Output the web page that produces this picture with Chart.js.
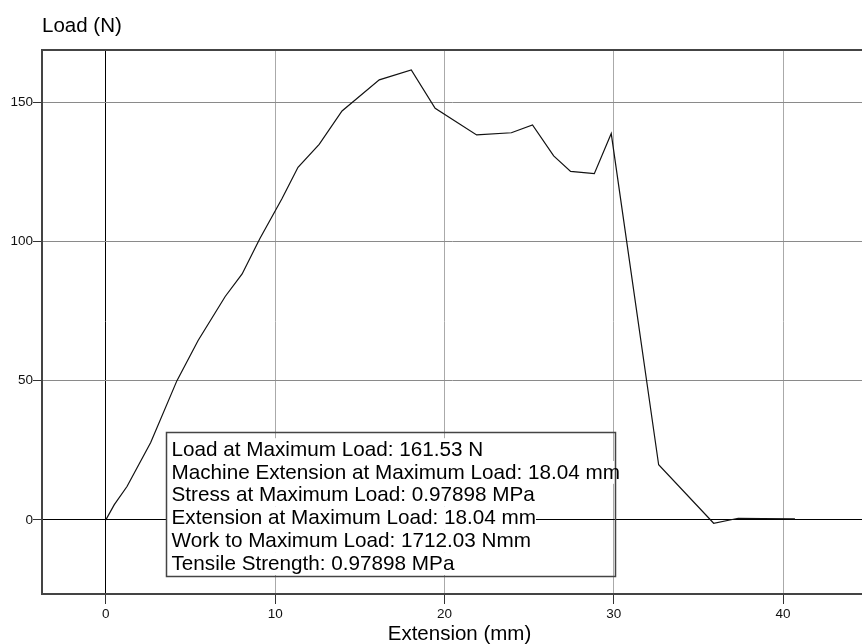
<!DOCTYPE html>
<html>
<head>
<meta charset="utf-8">
<script src="https://cdn.jsdelivr.net/npm/chart.js@4.4.1/dist/chart.umd.min.js"></script>
<style>
  html, body { margin: 0; padding: 0; background: #fff; }
  #chart { display: block; }
</style>
</head>
<body>
<canvas id="chart" width="862" height="644"></canvas>
<script>
// extension (mm) vs load (N)
const extension = [0, 0.5, 1.25, 2.65, 4.2, 5.45, 7.05, 8.05, 9.1, 10.4, 11.35, 12.6, 13.95, 16.15, 18.04,
    19.45, 21.9, 23.95, 25.2, 26.45, 27.45, 28.85, 29.85, 32.65, 35.9, 37.35, 38.8, 40.7];
const load = [0, 5.5, 12, 27.8, 50, 64.4, 80.2, 88.3, 101, 115.3, 126.6, 134.8, 146.8, 158, 161.53,
    147.8, 138.2, 139, 141.8, 130.7, 125.1, 124.3, 138.7, 19.8, -1.2, 0.6, 0.5, 0.4];

const xTickValues = [0, 10, 20, 30, 40];
const yTickValues = [0, 50, 100, 150];

const resultLines = [
    'Load at Maximum Load: 161.53 N',
    'Machine Extension at Maximum Load: 18.04 mm',
    'Stress at Maximum Load: 0.97898 MPa',
    'Extension at Maximum Load: 18.04 mm',
    'Work to Maximum Load: 1712.03 Nmm',
    'Tensile Strength: 0.97898 MPa'
];
// results box corners in data units (extension, load)
const boxFrom = [3.56, 31.7];
const boxTo = [30.05, -20.3];

const FONT = "'Liberation Sans', Arial, sans-serif";

const overlay = {
    id: 'overlay',
    afterDatasetsDraw(chart) {
        const { ctx, chartArea, scales: { x, y } } = chart;
        ctx.save();

        // top frame line
        ctx.strokeStyle = '#444';
        ctx.lineWidth = 2;
        ctx.beginPath();
        ctx.moveTo(chartArea.left - 1, chartArea.top);
        ctx.lineTo(chartArea.right, chartArea.top);
        ctx.stroke();

        // results box
        const bx = Math.round(x.getPixelForValue(boxFrom[0])) + 0.5;
        const by = Math.round(y.getPixelForValue(boxFrom[1])) + 0.5;
        const bx2 = Math.round(x.getPixelForValue(boxTo[0])) + 0.5;
        const by2 = Math.round(y.getPixelForValue(boxTo[1])) + 0.5;

        ctx.font = '20.7px ' + FONT;
        ctx.textBaseline = 'alphabetic';
        ctx.textAlign = 'left';
        const lineGap = 22.8;
        const firstBase = by + 23.2;

        // white strip behind each line of text
        ctx.fillStyle = '#fff';
        resultLines.forEach((t, i) => {
            const w = ctx.measureText(t).width;
            const base = firstBase + i * lineGap;
            ctx.fillRect(bx, base - 17.5, 5 + w, lineGap);
        });

        ctx.strokeStyle = '#444';
        ctx.lineWidth = 1.5;
        ctx.strokeRect(bx, by, bx2 - bx, by2 - by);

        ctx.fillStyle = '#000';
        resultLines.forEach((t, i) => {
            ctx.fillText(t, bx + 5, firstBase + i * lineGap);
        });
        ctx.restore();
    },
    afterDraw(chart) {
        const { ctx, chartArea } = chart;
        ctx.save();
        ctx.font = '20.5px ' + FONT;
        ctx.fillStyle = '#000';
        ctx.textBaseline = 'alphabetic';
        ctx.textAlign = 'left';
        ctx.fillText('Load (N)', chartArea.left, 31.5);
        // the original frame runs a little past the right edge, so the title sits right of centre
        ctx.textAlign = 'center';
        ctx.fillText('Extension (mm)', chartArea.left + (chartArea.width + 15) / 2, 640);
        ctx.restore();
    }
};

new Chart(document.getElementById('chart').getContext('2d'), {
    type: 'line',
    data: {
        datasets: [{
            data: extension.map((e, i) => ({ x: e, y: load[i] })),
            borderColor: '#111',
            borderWidth: 1.2,
            pointRadius: 0,
            fill: false,
            tension: 0
        }]
    },
    options: {
        responsive: false,
        animation: false,
        devicePixelRatio: 1,
        layout: { padding: { left: 0, top: 50, right: 0, bottom: 0 } },
        plugins: {
            legend: { display: false },
            tooltip: { enabled: false }
        },
        scales: {
            x: {
                type: 'linear',
                min: -3.77,
                max: 44.66,
                afterBuildTicks: (s) => { s.ticks = xTickValues.map(v => ({ value: v })); },
                afterFit: (s) => { s.height = 50; },
                grid: {
                    color: (c) => c.tick && c.tick.value === 0 ? '#000' : '#aaa',
                    lineWidth: 1,
                    tickLength: 10,
                    tickColor: '#333'
                },
                border: { display: true, color: '#444', width: 2 },
                ticks: {
                    color: '#111',
                    padding: 2,
                    maxRotation: 0,
                    font: { family: FONT, size: 13.5 }
                }
            },
            y: {
                type: 'linear',
                min: -26.6,
                max: 168.7,
                afterBuildTicks: (s) => { s.ticks = yTickValues.map(v => ({ value: v })); },
                afterFit: (s) => { s.width = 42; },
                grid: {
                    color: (c) => c.tick && c.tick.value === 0 ? '#000' : '#8a8a8a',
                    lineWidth: 1,
                    tickLength: 9,
                    tickColor: '#333'
                },
                border: { display: true, color: '#444', width: 2 },
                ticks: {
                    color: '#111',
                    padding: 0,
                    font: { family: FONT, size: 13.5 }
                }
            }
        }
    },
    plugins: [overlay]
});
</script>
</body>
</html>
